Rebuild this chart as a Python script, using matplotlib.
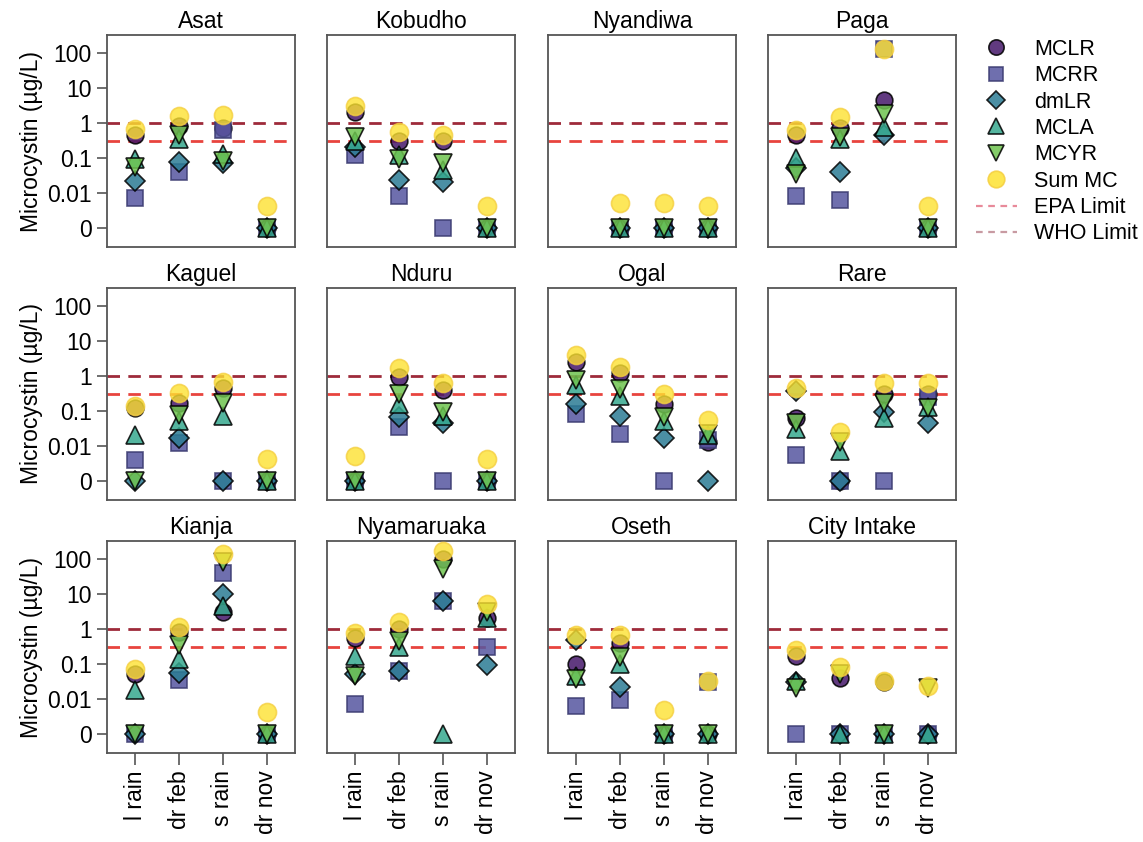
import numpy as np
import matplotlib
matplotlib.use("Agg")
import matplotlib.pyplot as plt
from matplotlib.lines import Line2D

plt.rcParams['font.family'] = ['Liberation Sans', 'DejaVu Sans']

nan = np.nan
sites = ["Asat", "Kobudho", "Nyandiwa", "Paga",
         "Kaguel", "Nduru", "Ogal", "Rare",
         "Kianja", "Nyamaruaka", "Oseth", "City Intake"]
seasons = ["l rain", "dr feb", "s rain", "dr nov"]

# values in µg/L per site (rows) and season (columns); 0 = not detected
MCLR = [[0.45, 0.8, 0.7, 0], [2.0, 0.3, 0.3, 0], [nan, 0, 0, 0], [0.45, 0.7, 4.5, 0],
        [0.12, 0.17, 0.45, 0], [0, 0.9, 0.4, 0], [2.4, 1.2, 0.15, 0.013], [0.06, 0, 0.3, 0.3],
        [0.05, 0.8, 3.0, 0], [0.55, 1.0, 100, 2.0], [0.1, 0.38, 0, 0], [0.16, 0.04, 0.03, 0]]
MCRR = [[0.007, 0.04, 0.6, 0], [0.12, 0.008, 0, 0], [nan, 0, 0, 0], [0.008, 0.006, 125, 0],
        [0.004, 0.012, 0, 0], [0, 0.035, 0, 0], [0.08, 0.021, 0, 0.015], [0.0055, 0, 0, 0.25],
        [0, 0.035, 38, 0], [0.007, 0.06, 6, 0.3], [0.006, 0.009, 0, 0.03], [0, 0, 0, 0]]
dmLR = [[0.022, 0.075, 0.07, 0], [0.2, 0.023, 0.02, 0], [nan, 0, 0, 0], [0.05, 0.04, 0.45, 0],
        [0, 0.017, 0, 0], [0, 0.065, 0.045, 0], [0.15, 0.07, 0.017, 0], [0.37, 0, 0.09, 0.045],
        [0, 0.053, 10, 0], [0.05, 0.06, 6.3, 0.09], [0.48, 0.022, 0, 0], [0.03, 0, 0, 0]]
MCLA = [[0.09, 0.35, 0.13, 0], [0.3, 0.12, 0.045, 0], [nan, 0, 0, 0], [0.1, 0.35, 0.75, 0],
        [0.02, 0.05, 0.07, 0], [0, 0.15, 0.07, 0], [0.55, 0.27, 0.05, 0.02], [0.03, 0.007, 0.06, 0.13],
        [0.018, 0.14, 4.5, 0], [0.17, 0.3, 0, 2.0], [0.045, 0.1, 0, 0], [0.033, 0, 0, 0]]
MCYR = [[0.055, 0.45, 0.08, 0], [0.4, 0.09, 0.07, 0], [nan, 0, 0, 0], [0.035, 0.38, 1.8, 0],
        [0, 0.075, 0.16, 0], [0, 0.3, 0.09, 0], [0.75, 0.42, 0.065, 0.022], [0.045, 0.013, 0.17, 0.12],
        [0, 0.35, 80, 0], [0.045, 0.45, 50, 3.0], [0.037, 0.15, 0, 0], [0.02, 0.05, 0, 0.02]]
SumMC = [[0.65, 1.55, 1.7, 0.0042], [3.0, 0.55, 0.45, 0.0042], [nan, 0.005, 0.005, 0.0042],
         [0.6, 1.4, 130, 0.0042], [0.14, 0.32, 0.65, 0.0042], [0.005, 1.6, 0.6, 0.0042],
         [4.0, 1.8, 0.3, 0.055], [0.45, 0.024, 0.6, 0.6], [0.07, 1.1, 135, 0.0042],
         [0.75, 1.5, 160, 5.0], [0.65, 0.65, 0.0048, 0.032], [0.25, 0.08, 0.033, 0.023]]

EPA_LIMIT = 0.3
WHO_LIMIT = 1.0
ZERO_LEVEL = 0.001
ytick_vals = [0.001, 0.01, 0.1, 1, 10, 100]
ytick_labels = ["0", "0.01", "0.1", "1", "10", "100"]

series = [
    ("MCLR", MCLR, "o", "#45176a", 12, "black"),
    ("MCRR", MCRR, "s", "#5656a0", 11, "#3a3a70"),
    ("dmLR", dmLR, "D", "#2b7c94", 10, "black"),
    ("MCLA", MCLA, "^", "#36a88e", 13, "black"),
    ("MCYR", MCYR, "v", "#6fc44f", 13, "black"),
    ("Sum MC", SumMC, "o", "#fde231", 13, "#f5cf40"),
]

FS = 16.5
W, H = 1143, 842
fig = plt.figure(figsize=(W / 100, H / 100), dpi=100)
col_left = [107, 327, 548, 768]
row_top = [35, 288, 541]
aw, ah = 188, 212

x = np.arange(1, 5)
for i, site in enumerate(sites):
    r, c = divmod(i, 4)
    ax = fig.add_axes([col_left[c] / W, 1 - (row_top[r] + ah) / H, aw / W, ah / H])
    ax.set_yscale("log")
    ax.set_ylim(10 ** -3.55, 10 ** 2.5)
    ax.set_xlim(0.35, 4.65)
    ax.axhline(WHO_LIMIT, color="#9e2a3a", ls=(0, (4.5, 3)), lw=2, zorder=1)
    ax.axhline(EPA_LIMIT, color="#e8443e", ls=(0, (4.5, 3)), lw=2, zorder=1)
    for k, (name, data, mk, col, ms, ec) in enumerate(series):
        vals = np.array(data[i], dtype=float)
        yv = np.where(vals == 0, ZERO_LEVEL, vals)
        ax.plot(x, yv, ls="none", marker=mk, ms=ms, mfc=col, mec=ec, mew=1.2,
                alpha=0.85 if name != "Sum MC" else 0.8, zorder=3 + k)
    ax.set_title(site, fontsize=FS, pad=5)
    ax.minorticks_off()
    for s in ax.spines.values():
        s.set_color("#555555")
        s.set_linewidth(1.3)
    if c == 0:
        ax.set_yticks(ytick_vals)
        ax.set_yticklabels(ytick_labels)
        ax.set_ylabel("Microcystin (µg/L)", fontsize=FS, labelpad=3)
        ax.tick_params(axis="y", labelsize=FS, length=7, color="#555555", width=1.2, pad=4)
    else:
        ax.set_yticks([])
    if r == 2:
        ax.set_xticks(x)
        ax.set_xticklabels(seasons, rotation=90, fontsize=FS)
        ax.tick_params(axis="x", length=8.5, color="#555555", width=1.2, pad=4)
    else:
        ax.set_xticks([])

handles = []
for name, data, mk, col, ms, ec in series:
    handles.append(Line2D([], [], ls="none", marker=mk, ms=ms - 1, mfc=col, mec=ec,
                          mew=1.2, alpha=0.85, label=name))
handles.append(Line2D([], [], color="#e88a9a", ls=(0, (3, 2.5)), lw=1.6, label="EPA Limit"))
handles.append(Line2D([], [], color="#c89aa2", ls=(0, (3, 2.5)), lw=1.6, label="WHO Limit"))
fig.legend(handles=handles, loc="upper left", bbox_to_anchor=(965 / W, 1 - 28 / H),
           frameon=False, fontsize=15.5, handlelength=1.9, handletextpad=0.8,
           labelspacing=0.25, borderpad=0)

fig.savefig("out.png", dpi=100)
